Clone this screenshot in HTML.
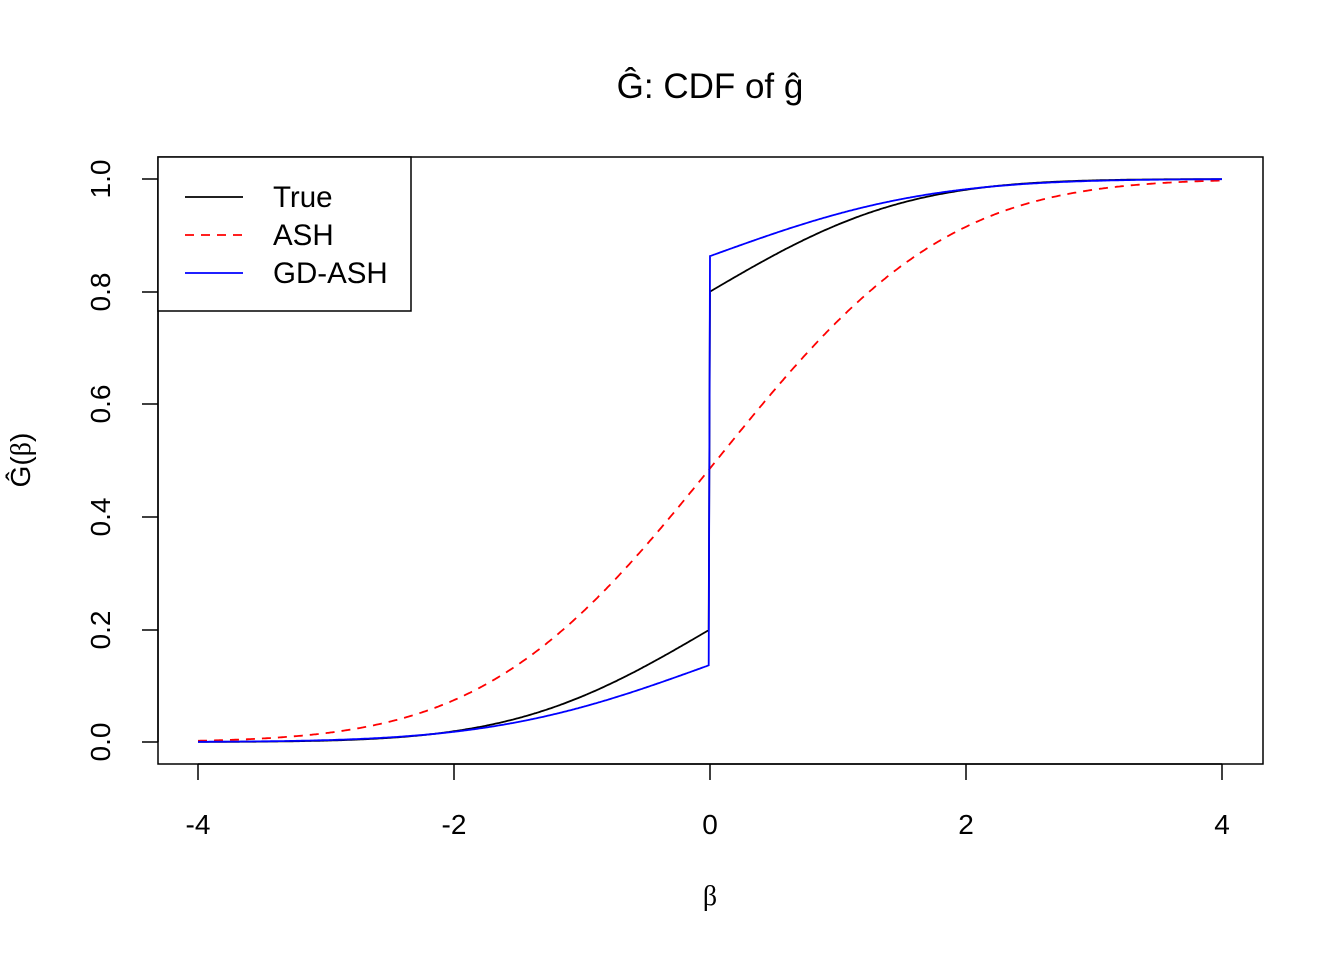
<!DOCTYPE html>
<html><head><meta charset="utf-8"><style>
body{margin:0;background:#fff}
svg{display:block;font-family:"Liberation Sans",sans-serif}
</style></head><body>
<svg id="s" width="1344" height="960" viewBox="0 0 1344 960">
<rect x="0" y="0" width="1344" height="960" fill="#fff"/>
<text x="710" y="98" font-size="35" text-anchor="middle">Ĝ: CDF of ĝ</text>
<rect x="158" y="157" width="1105" height="607" fill="none" stroke="#000" stroke-width="1.5"/>
<g stroke="#000" stroke-width="1.5">
<line x1="198" y1="764" x2="1222" y2="764"/>
<line x1="198" y1="764" x2="198" y2="780"/><line x1="454" y1="764" x2="454" y2="780"/><line x1="710" y1="764" x2="710" y2="780"/><line x1="966" y1="764" x2="966" y2="780"/><line x1="1222" y1="764" x2="1222" y2="780"/>
<line x1="158" y1="179" x2="158" y2="742"/>
<line x1="142" y1="742" x2="158" y2="742"/><line x1="142" y1="630" x2="158" y2="630"/><line x1="142" y1="517" x2="158" y2="517"/><line x1="142" y1="404" x2="158" y2="404"/><line x1="142" y1="292" x2="158" y2="292"/><line x1="142" y1="179" x2="158" y2="179"/>
</g>
<g font-size="28" text-anchor="middle">
<text x="198" y="834">-4</text><text x="454" y="834">-2</text><text x="710" y="834">0</text><text x="966" y="834">2</text><text x="1222" y="834">4</text>
<text transform="translate(110,742) rotate(-90)">0.0</text>
<text transform="translate(110,630) rotate(-90)">0.2</text>
<text transform="translate(110,517) rotate(-90)">0.4</text>
<text transform="translate(110,404) rotate(-90)">0.6</text>
<text transform="translate(110,292) rotate(-90)">0.8</text>
<text transform="translate(110,179) rotate(-90)">1.0</text>
<text x="710" y="905" font-family="Liberation Serif,serif">β</text>
<text transform="translate(30,460) rotate(-90)">Ĝ(<tspan font-family="Liberation Serif,serif">β</tspan>)</text>
</g>
<g id="curves" fill="none" stroke-width="1.8"></g>
<rect x="158" y="157" width="253" height="154" fill="#fff" stroke="#000" stroke-width="1.5"/>
<line x1="185" y1="197" x2="243" y2="197" stroke="#000" stroke-width="1.8"/>
<line x1="185" y1="235" x2="243" y2="235" stroke="#f00" stroke-width="1.8" stroke-dasharray="9,7"/>
<line x1="185" y1="273" x2="243" y2="273" stroke="#00f" stroke-width="1.8"/>
<g font-size="29.5"><text x="273" y="207">True</text><text x="273" y="245">ASH</text><text x="273" y="283">GD-ASH</text></g>
</svg>
<script>
function erf(x){var s=x<0?-1:1;x=Math.abs(x);var t=1/(1+0.3275911*x);var y=1-(((((1.061405429*t-1.453152027)*t)+1.421413741)*t-0.284496736)*t+0.254829592)*t*Math.exp(-x*x);return s*y;}
function P(x){return 0.5*(1+erf(x/Math.SQRT2));}
function X(b){return 710+128*b}function Y(v){return 742-563*v}
function path(f){var d="";for(var i=0;i<=800;i++){var b=-4+i*0.01;d+=(i?"L":"M")+X(b).toFixed(1)+","+Y(f(b)).toFixed(1);}return d;}
function mix(w,s){return function(b){return (b>=0?w:0)+(1-w)*P(b/s);}}
function seg(f){var d="";for(var i=0;i<=400;i++){var b=-4+i*0.01;d+=(i?"L":"M")+X(b).toFixed(1)+","+Y(f(b)).toFixed(1);}for(var i=0;i<=400;i++){var b=i*0.01;d+="L"+X(b).toFixed(1)+","+Y(f(b)).toFixed(1);}return d;}
var g=document.getElementById("curves");
function add(d,c,da){var p=document.createElementNS("http://www.w3.org/2000/svg","path");p.setAttribute("d",d);p.setAttribute("stroke",c);if(da)p.setAttribute("stroke-dasharray",da);g.appendChild(p);}
add(seg(mix(0.6,1.2)),"#000");
add(path(function(b){return P((b-0.05)/1.42)}),"#f00","9,7");
add(seg(mix(0.726,1.33)),"#00f");
</script>
</body></html>
